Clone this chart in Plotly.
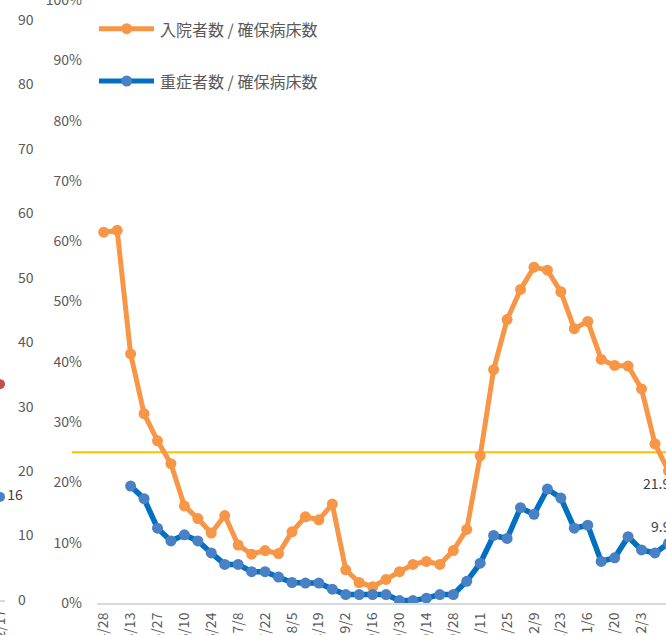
import plotly.graph_objects as go

# ---------------- data ----------------
dates = ["4/28", "5/6", "5/13", "5/20", "5/27", "6/3", "6/10", "6/17", "6/24", "7/1",
         "7/8", "7/15", "7/22", "7/29", "8/5", "8/12", "8/19", "8/26", "9/2", "9/9",
         "9/16", "9/23", "9/30", "10/7", "10/14", "10/21", "10/28", "11/4", "11/11", "11/18",
         "11/25", "12/2", "12/9", "12/16", "12/23", "12/30", "1/6", "1/13", "1/20", "1/27",
         "2/3", "2/10", "2/17"]

hosp_ratio = [61.5, 61.8, 41.3, 31.4, 26.9, 23.1, 16.1, 14.0, 11.6, 14.5,
              9.6, 8.1, 8.7, 8.2, 11.8, 14.3, 13.8, 16.4, 5.5, 3.4,
              2.7, 3.9, 5.2, 6.4, 6.9, 6.4, 8.7, 12.2, 24.4, 38.7,
              47.0, 52.0, 55.7, 55.2, 51.6, 45.5, 46.7, 40.4, 39.4, 39.3,
              35.5, 26.4, 21.9]

severe_ratio = [None, None, 19.4, 17.3, 12.4, 10.3, 11.3, 10.3, 8.3, 6.4,
                6.4, 5.2, 5.2, 4.3, 3.4, 3.3, 3.3, 2.3, 1.4, 1.4,
                1.4, 1.4, 0.4, 0.4, 0.8, 1.4, 1.4, 3.6, 6.6, 11.2,
                10.7, 15.8, 14.7, 18.9, 17.4, 12.4, 12.9, 6.9, 7.5, 11.0,
                8.8, 8.3, 9.9]

threshold = [25.0, 25.0]

# partially visible neighbouring chart (left edge)
left_dates = ["2/17"]
left_red = [33.5]
left_blue = [16]

series_names = ["入院者数 / 確保病床数", "重症者数 / 確保病床数"]

# ---------------- style ----------------
ORANGE = "#F79646"
BLUE_LINE = "#0070C0"
BLUE_MARK = "#4A80C4"
RED = "#C0504D"
YELLOW = "#FFC000"
TICK = "#595959"
LABEL = "#404040"
FONT = "Noto Sans CJK JP"

W, H = 666, 635
MB = 32
PH = H - MB

x_idx = list(range(len(dates)))

fig = go.Figure()

fig.add_trace(go.Scatter(
    x=x_idx, y=hosp_ratio, mode="lines+markers", name=series_names[0],
    line=dict(color=ORANGE, width=5), marker=dict(color=ORANGE, size=11),
    cliponaxis=True, xaxis="x", yaxis="y"))
fig.add_trace(go.Scatter(
    x=x_idx, y=severe_ratio, mode="lines+markers", name=series_names[1],
    line=dict(color=BLUE_LINE, width=5.5), marker=dict(color=BLUE_MARK, size=11),
    cliponaxis=True, xaxis="x", yaxis="y"))

# left chart remnants
fig.add_trace(go.Scatter(
    x=[0], y=left_red, mode="markers", marker=dict(color=RED, size=10),
    cliponaxis=False, xaxis="x2", yaxis="y2"))
fig.add_trace(go.Scatter(
    x=[0], y=left_blue, mode="markers+text", marker=dict(color=BLUE_MARK, size=10),
    text=[str(v) for v in left_blue], textposition="middle right",
    textfont=dict(size=14, color=LABEL, family=FONT),
    cliponaxis=False, xaxis="x2", yaxis="y2"))

tickvals = x_idx[::2]
ticktext = dates[::2]

fig.update_layout(
    width=W, height=H,
    margin=dict(l=0, r=0, t=0, b=MB, autoexpand=False),
    paper_bgcolor="white", plot_bgcolor="white",
    showlegend=False,
    font=dict(family=FONT, size=14, color=TICK),
    xaxis=dict(domain=[97 / W, 1], range=[-0.5, 41.82], tickvals=tickvals, ticktext=ticktext,
               tickangle=-90, tickfont=dict(size=14, color=TICK, family=FONT),
               showline=True, linecolor="#D9D9D9", linewidth=2, showgrid=False,
               zeroline=False, ticks="", ticklabelstandoff=2, automargin=False, anchor="y",
               ticklabeloverflow="allow"),
    yaxis=dict(domain=[0, 1], range=[0, 100], dtick=10, ticksuffix="%",
               tickfont=dict(size=14, color=TICK, family=FONT),
               showgrid=False, zeroline=False, showline=False, ticks="",
               ticklabelstandoff=14, automargin=False, anchor="x",
               ticklabeloverflow="allow"),
    xaxis2=dict(domain=[0, 5 / W], range=[0, 1], tickvals=[0], ticktext=left_dates,
                tickangle=-90, tickfont=dict(size=14, color=TICK, family=FONT),
                showline=True, linecolor="#D9D9D9", linewidth=2, showgrid=False,
                zeroline=False, ticks="", ticklabelstandoff=2, automargin=False, anchor="y2",
                ticklabeloverflow="allow"),
    yaxis2=dict(domain=[3 / PH, 1], range=[0, 600 / 6.444], dtick=10, side="right",
                tickfont=dict(size=14, color=TICK, family=FONT),
                showgrid=False, zeroline=False, showline=False, ticks="",
                ticklabelstandoff=12, automargin=False, anchor="x2",
                ticklabeloverflow="allow"),
)

# threshold line
fig.add_shape(type="line", xref="paper", yref="y", x0=72 / W, x1=1,
              y0=threshold[0], y1=threshold[1], line=dict(color=YELLOW, width=2), layer="below")

# end-of-series data labels
fig.add_annotation(xref="paper", yref="y", x=685 / W, y=hosp_ratio[-1], xanchor="right",
                   yanchor="middle", yshift=-12, showarrow=False,
                   text=f"{hosp_ratio[-1]}%", font=dict(size=14, color=LABEL, family=FONT))
fig.add_annotation(xref="paper", yref="y", x=685 / W, y=severe_ratio[-1], xanchor="right",
                   yanchor="middle", yshift=17, showarrow=False,
                   text=f"{severe_ratio[-1]}%", font=dict(size=14, color=LABEL, family=FONT))

# manual legend
legend_items = [(series_names[0], ORANGE, ORANGE, 28.7), (series_names[1], BLUE_LINE, BLUE_MARK, 81)]
for name, lc, mc, py in legend_items:
    yp = (PH - py) / PH
    fig.add_shape(type="line", xref="paper", yref="paper", x0=99 / W, x1=154 / W, y0=yp, y1=yp,
                  line=dict(color=lc, width=5))
    r = 5.5
    fig.add_shape(type="circle", xref="paper", yref="paper",
                  x0=(126.7 - r) / W, x1=(126.7 + r) / W, y0=yp - r / PH, y1=yp + r / PH,
                  fillcolor=mc, line=dict(width=0))
    fig.add_annotation(xref="paper", yref="paper", x=158 / W, y=yp, xanchor="left",
                       yanchor="middle", showarrow=False, text=name,
                       font=dict(size=16, color=TICK, family=FONT))

fig.write_html(
    "out.html",
    config={"displayModeBar": False},
    post_script="document.body.style.margin='0';document.body.style.overflow='hidden';",
)
